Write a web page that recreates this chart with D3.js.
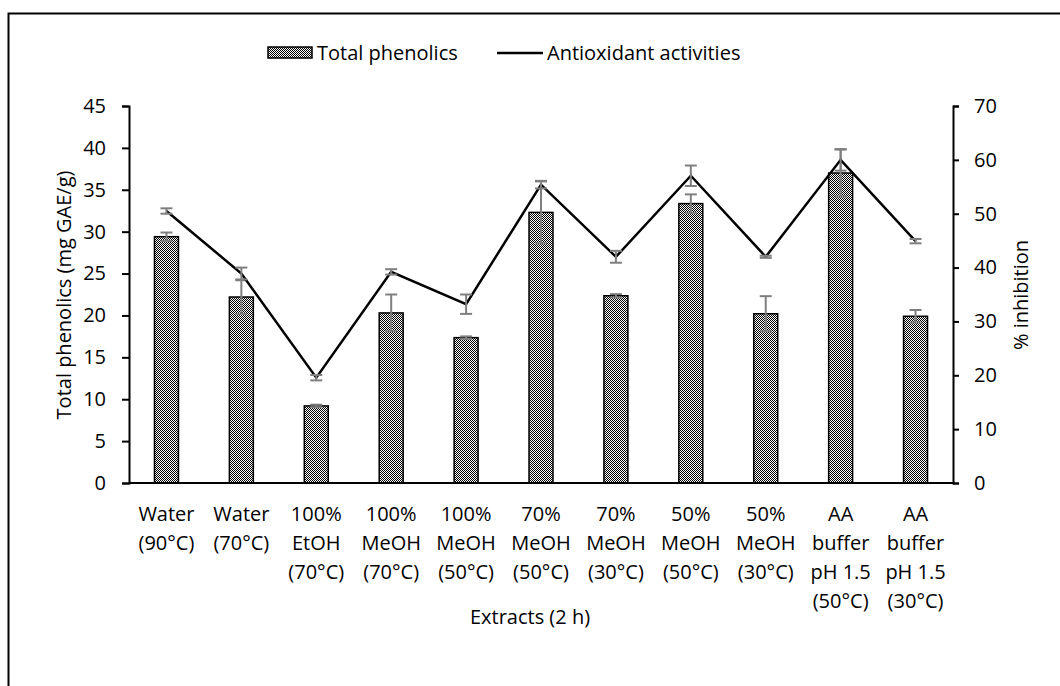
<!DOCTYPE html>
<html>
<head>
<meta charset="utf-8">
<script src="https://cdn.jsdelivr.net/npm/d3@7"></script>
<style>
  html, body { margin: 0; padding: 0; background: #fff; }
  svg text { font-family: "Open Sans", Lato, sans-serif; fill: #000; }
</style>
</head>
<body>
<svg id="chart" width="1060" height="686"></svg>
<script>
// Extraction conditions (x-axis categories, one array of lines per label)
const categories = [
  ["Water", "(90°C)"],
  ["Water", "(70°C)"],
  ["100%", "EtOH", "(70°C)"],
  ["100%", "MeOH", "(70°C)"],
  ["100%", "MeOH", "(50°C)"],
  ["70%", "MeOH", "(50°C)"],
  ["70%", "MeOH", "(30°C)"],
  ["50%", "MeOH", "(50°C)"],
  ["50%", "MeOH", "(30°C)"],
  ["AA", "buffer", "pH 1.5", "(50°C)"],
  ["AA", "buffer", "pH 1.5", "(30°C)"]
];

// Total phenolics (mg GAE/g) with standard deviation
const phenolics    = [29.4, 22.2, 9.2, 20.3, 17.35, 32.3, 22.35, 33.35, 20.2, 37.0, 19.9];
const phenolicsErr = [0.5, 2.0, 0.15, 2.2, 0.15, 3.7, 0.2, 1.1, 2.1, 2.8, 0.75];

// Antioxidant activities (% inhibition) with standard deviation
const inhibition    = [50.5, 38.9, 19.55, 39.2, 33.2, 55.4, 42.0, 57.05, 42.0, 60.0, 44.9];
const inhibitionErr = [0.5, 1.1, 0.5, 0.5, 1.8, 0.7, 1.1, 1.9, 0.2, 2.0, 0.4];

const leftTicks  = [0, 5, 10, 15, 20, 25, 30, 35, 40, 45];
const rightTicks = [0, 10, 20, 30, 40, 50, 60, 70];

const svg = d3.select("#chart");

// Outer frame
svg.append("rect")
  .attr("x", 8.5).attr("y", 13.5)
  .attr("width", 1070).attr("height", 700)
  .attr("fill", "none").attr("stroke", "#000").attr("stroke-width", 2);

// Checkered fill used for the bars
const defs = svg.append("defs");
const pat = defs.append("pattern")
  .attr("id", "checker")
  .attr("patternUnits", "userSpaceOnUse")
  .attr("width", 2).attr("height", 2);
pat.append("rect").attr("width", 2).attr("height", 2).attr("fill", "#fff");
pat.append("rect").attr("x", 0).attr("y", 0).attr("width", 1).attr("height", 1).attr("fill", "#000");
pat.append("rect").attr("x", 1).attr("y", 1).attr("width", 1).attr("height", 1).attr("fill", "#000");

const plot = { left: 129, right: 953, top: 106, bottom: 483 };

const x = d3.scaleBand()
  .domain(d3.range(categories.length))
  .range([plot.left, plot.right])
  .paddingInner(0.68)
  .paddingOuter(0.34);

const yL = d3.scaleLinear().domain([0, 45]).range([plot.bottom, plot.top]);
const yR = d3.scaleLinear().domain([0, 70]).range([plot.bottom, plot.top]);

const cx = i => x(i) + x.bandwidth() / 2;

// Bars
svg.append("g").selectAll("rect")
  .data(phenolics)
  .join("rect")
  .attr("x", (d, i) => x(i))
  .attr("y", d => yL(d))
  .attr("width", x.bandwidth())
  .attr("height", d => yL(0) - yL(d))
  .attr("fill", "url(#checker)")
  .attr("stroke", "#000")
  .attr("stroke-width", 1.5);

// Error bars helper
function errorBars(values, errs, scale) {
  const g = svg.append("g").attr("stroke", "#7f7f7f").attr("stroke-width", 2);
  values.forEach((v, i) => {
    const c = cx(i), hi = scale(v + errs[i]), lo = scale(v - errs[i]);
    g.append("line").attr("x1", c).attr("x2", c).attr("y1", hi).attr("y2", lo);
    g.append("line").attr("x1", c - 6).attr("x2", c + 6).attr("y1", hi).attr("y2", hi);
    g.append("line").attr("x1", c - 6).attr("x2", c + 6).attr("y1", lo).attr("y2", lo);
  });
}

errorBars(phenolics, phenolicsErr, yL);

// Antioxidant activity line
svg.append("path")
  .datum(inhibition)
  .attr("fill", "none")
  .attr("stroke", "#000")
  .attr("stroke-width", 2.5)
  .attr("stroke-linejoin", "miter")
  .attr("d", d3.line().x((d, i) => cx(i)).y(d => yR(d)));

errorBars(inhibition, inhibitionErr, yR);

// Axes
const leftAxis = d3.axisLeft(yL).tickValues(leftTicks).tickSize(7).tickPadding(16);
const rightAxis = d3.axisRight(yR).tickValues(rightTicks).tickSize(6).tickPadding(15);
const bottomAxis = d3.axisBottom(x).tickSize(0).tickFormat("");

const gl = svg.append("g").attr("transform", `translate(${plot.left},0)`).call(leftAxis);
const gr = svg.append("g").attr("transform", `translate(${plot.right},0)`).call(rightAxis);
const gb = svg.append("g").attr("transform", `translate(0,${plot.bottom})`).call(bottomAxis);

[gl, gr, gb].forEach(g => {
  g.selectAll("path").attr("stroke", "#000").attr("stroke-width", 2);
  g.selectAll("line").attr("stroke", "#000").attr("stroke-width", 2);
  g.selectAll("text").style("font-size", "20px").attr("fill", "#000");
});
gb.select("path").attr("d", `M${plot.left},0H${plot.right}`);

// Multi-line category labels
const labels = svg.append("g").attr("text-anchor", "middle").style("font-size", "20px");
categories.forEach((lines, i) => {
  const t = labels.append("text").attr("x", cx(i)).attr("y", 521);
  lines.forEach((ln, j) => {
    t.append("tspan").attr("x", cx(i)).attr("y", 521 + j * 29).text(ln);
  });
});

// Axis titles
svg.append("text")
  .attr("transform", "translate(71,295) rotate(-90)")
  .attr("text-anchor", "middle")
  .style("font-size", "20px")
  .text("Total phenolics (mg GAE/g)");

svg.append("text")
  .attr("transform", "translate(1028,295) rotate(-90)")
  .attr("text-anchor", "middle")
  .style("font-size", "20px")
  .text("% inhibition");

svg.append("text")
  .attr("x", 530).attr("y", 624)
  .attr("text-anchor", "middle")
  .style("font-size", "20px")
  .text("Extracts (2 h)");

// Legend
const legend = svg.append("g").style("font-size", "20px");
legend.append("rect")
  .attr("x", 268).attr("y", 47).attr("width", 44).attr("height", 11)
  .attr("fill", "url(#checker)").attr("stroke", "#000").attr("stroke-width", 1.5);
legend.append("text").attr("x", 317).attr("y", 60).text("Total phenolics");
legend.append("line")
  .attr("x1", 497).attr("x2", 543).attr("y1", 53).attr("y2", 53)
  .attr("stroke", "#000").attr("stroke-width", 2.5);
legend.append("text").attr("x", 547).attr("y", 60).text("Antioxidant activities");
</script>
</body>
</html>
